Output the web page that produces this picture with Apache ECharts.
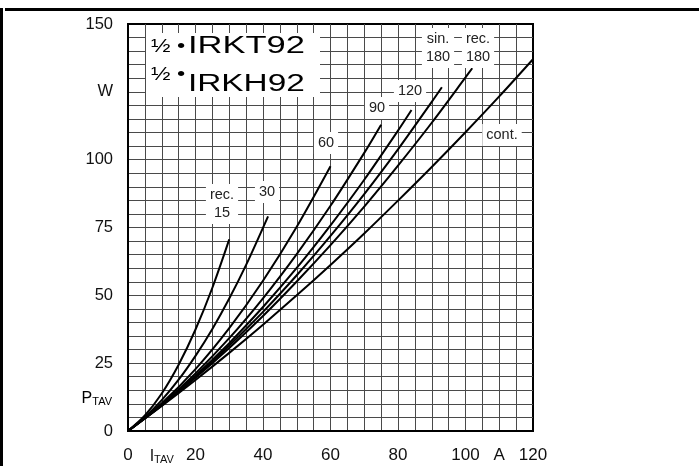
<!DOCTYPE html>
<html>
<head>
<meta charset="utf-8">
<script src="https://cdn.jsdelivr.net/npm/echarts@6/dist/echarts.min.js"></script>
<style>
html, body { margin: 0; padding: 0; background: #fff; }
#main { width: 699px; height: 466px; }
</style>
</head>
<body>
<div id="main"></div>
<script>
// tick labels
var xTickValues = [0, 10, 20, 40, 60, 80, 100, 110, 120];
var xTickLabels = ['0', '{p|I}{s|TAV}', '20', '40', '60', '80', '100', 'A', '120'];
var yTickValues = [0, 25, 50, 75, 100, 125, 150];
var yTickLabels = ['0', '25', '50', '75', '100', 'W', '150'];

// curves, I_TAV in A / P_TAV in W
var iRec15 = [0, 5, 10, 15, 20, 25, 30];
var pRec15 = [0, 5.7, 13.8, 24.4, 37.4, 52.8, 70.6];
var iRec30 = [0, 5, 10, 15, 20, 25, 30, 35, 41.5];
var pRec30 = [0, 5.1, 11.4, 18.9, 27.7, 37.6, 48.8, 61.2, 79.1];
var iRec60 = [0, 10, 20, 30, 40, 50, 60];
var pRec60 = [0, 10.2, 22.8, 37.9, 55.4, 75.3, 97.6];
var iRec90 = [0, 10, 20, 30, 40, 50, 60, 70, 75];
var pRec90 = [0, 9.8, 21.2, 34.2, 48.9, 65.2, 83.0, 102.5, 112.9];
var iRec120 = [0, 10, 20, 30, 40, 50, 60, 70, 80, 84];
var pRec120 = [0, 9.6, 20.4, 32.4, 45.7, 60.1, 75.8, 92.6, 110.7, 118.3];
var iSin180 = [0, 10, 20, 30, 40, 50, 60, 70, 80, 90, 93];
var pSin180 = [0, 9.5, 20.0, 31.5, 43.9, 57.4, 71.9, 87.3, 103.8, 121.3, 126.7];
var iRec180 = [0, 10, 20, 30, 40, 50, 60, 70, 80, 90, 100, 102];
var pRec180 = [0, 9.4, 19.6, 30.6, 42.4, 55.1, 68.5, 82.7, 97.8, 113.6, 130.3, 133.7];
var iCont = [0, 10, 20, 30, 40, 50, 60, 70, 80, 90, 100, 110, 120];
var pCont = [0, 9.2, 18.8, 28.8, 39.2, 50.0, 61.2, 72.8, 84.9, 97.3, 110.1, 123.3, 137.0];

var FONT = '"Liberation Sans", Arial, sans-serif';

function pairs(xs, ys) {
	var out = [];
	for (var i = 0; i < xs.length; i++) out.push([xs[i], ys[i]]);
	return out;
}

function curve(name, xs, ys) {
	return {
		name: name,
		type: 'line',
		data: pairs(xs, ys),
		smooth: 0.3,
		symbol: 'none',
		lineStyle: { color: '#000', width: 2 },
		z: 3
	};
}

function tag(text, x, y) {
	return {
		type: 'text', x: x, y: y, z: 50,
		style: {
			text: text, fontSize: 14.5, fontFamily: FONT, fill: '#222',
			backgroundColor: '#fff', padding: [2, 4], lineHeight: 18,
			align: 'center', verticalAlign: 'middle'
		}
	};
}

function bigText(text, x, y, sx, size) {
	return {
		type: 'text', x: x, y: y, scaleX: sx, z: 50,
		style: {
			text: text, fontSize: size, fontFamily: FONT, fill: '#000',
			align: 'left', verticalAlign: 'middle'
		}
	};
}

var subRich = {
	p: { fontSize: 16, fontFamily: FONT, color: '#111', lineHeight: 18, verticalAlign: 'bottom' },
	s: { fontSize: 11, fontFamily: FONT, color: '#111', lineHeight: 10, verticalAlign: 'bottom' }
};

var myChart = echarts.init(document.getElementById('main'));
var option = {
	animation: false,
	backgroundColor: '#fff',
	grid: {
		left: 128, top: 24, width: 405, height: 407,
		show: true, borderColor: '#000', borderWidth: 2,
		outerBoundsMode: 'none'
	},
	xAxis: {
		type: 'value', min: 0, max: 120, interval: 5,
		axisLine: { show: true, lineStyle: { color: '#000', width: 2 } },
		axisTick: { show: false },
		splitLine: { show: true, showMinLine: false, showMaxLine: false, lineStyle: { color: '#4a4a4a', width: 1 } },
		axisLabel: {
			margin: 16, fontSize: 17, fontFamily: FONT, color: '#111',
			rich: subRich,
			formatter: function (v) {
				var k = xTickValues.indexOf(v);
				return k >= 0 ? xTickLabels[k] : '';
			}
		}
	},
	yAxis: {
		type: 'value', min: 0, max: 150, interval: 5,
		axisLine: { show: true, lineStyle: { color: '#000', width: 2 } },
		axisTick: { show: false },
		splitLine: { show: true, showMinLine: false, showMaxLine: false, lineStyle: { color: '#4a4a4a', width: 1 } },
		axisLabel: {
			margin: 15, fontSize: 16.5, fontFamily: FONT, color: '#111',
			formatter: function (v) {
				var k = yTickValues.indexOf(v);
				return k >= 0 ? yTickLabels[k] : '';
			}
		}
	},
	graphic: [
		// frame
		{ type: 'rect', z: 60, shape: { x: 0, y: 8, width: 3, height: 458 }, style: { fill: '#000' } },
		{ type: 'rect', z: 60, shape: { x: 5, y: 8, width: 694, height: 3 }, style: { fill: '#000' } },
		// P_TAV axis name
		{
			type: 'text', x: 112, y: 398, z: 50,
			style: { text: '{p|P}{s|TAV}', rich: subRich, align: 'right', verticalAlign: 'middle' }
		},
		// title box
		{ type: 'rect', z: 40, shape: { x: 146, y: 33, width: 174, height: 64 }, style: { fill: '#fff' } },
		bigText('\u00bd \u2022', 151, 47, 1.3, 18),
		bigText('IRKT92', 188, 47, 1.5, 23),
		bigText('\u00bd \u2022', 151, 75, 1.3, 18),
		bigText('IRKH92', 188, 85, 1.45, 23),
		// curve tags
		tag('rec.\n15', 222, 204),
		tag('30', 267, 192),
		tag('60', 326, 143),
		tag('90', 377, 108),
		tag('120', 410, 91),
		tag('sin.\n180', 438, 48),
		tag('rec.\n180', 478, 48),
		tag('cont.', 502, 135)
	],
	series: [
		curve('rec. 15', iRec15, pRec15),
		curve('rec. 30', iRec30, pRec30),
		curve('rec. 60', iRec60, pRec60),
		curve('rec. 90', iRec90, pRec90),
		curve('rec. 120', iRec120, pRec120),
		curve('sin. 180', iSin180, pSin180),
		curve('rec. 180', iRec180, pRec180),
		curve('cont.', iCont, pCont)
	]
};
myChart.setOption(option);
window.onresize = myChart.resize;
</script>
</body>
</html>
